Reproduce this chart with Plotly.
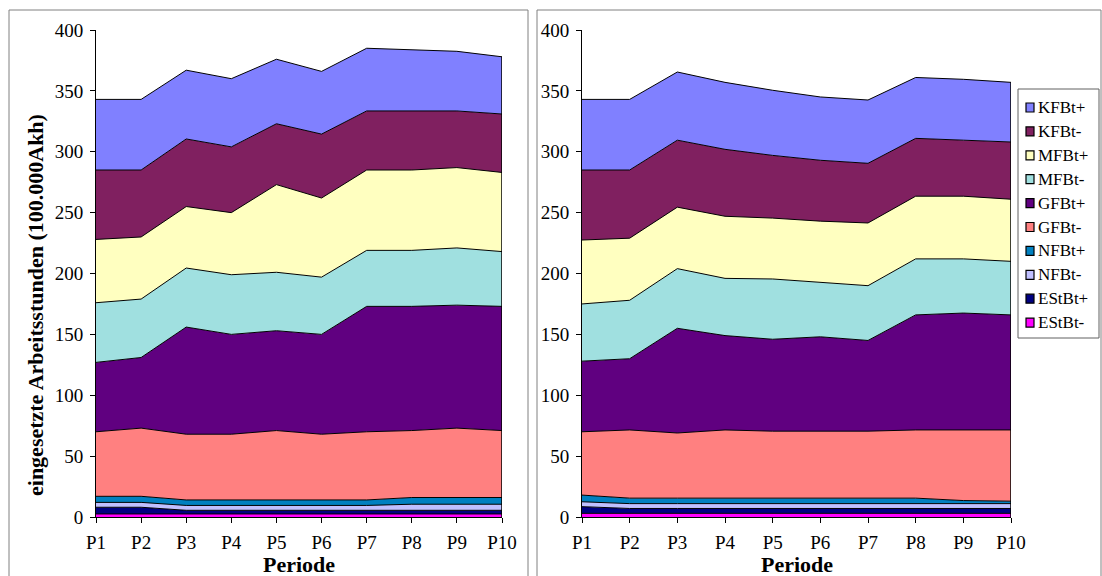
import plotly.graph_objects as go

periods = ["P1", "P2", "P3", "P4", "P5", "P6", "P7", "P8", "P9", "P10"]
series_names = ["EStBt-", "EStBt+", "NFBt-", "NFBt+", "GFBt-", "GFBt+", "MFBt-", "MFBt+", "KFBt-", "KFBt+"]
colors = ["#FF00FF", "#000080", "#C0C0FF", "#0080C0", "#FF8080", "#600080",
          "#A0E0E0", "#FFFFC0", "#802060", "#8080FF"]

# Left chart values (100.000 Akh)
left_EStBt_m = [2.5, 2.5, 2.5, 2.5, 2.5, 2.5, 2.5, 2.5, 2.5, 2.5]
left_EStBt_p = [5.5, 5.5, 3, 3, 3, 3, 3, 3, 3, 3]
left_NFBt_m = [4, 4, 4, 4, 4, 4, 4, 5, 5, 5]
left_NFBt_p = [5, 5, 4.5, 4.5, 4.5, 4.5, 4.5, 5.5, 5.5, 5.5]
left_GFBt_m = [53, 56, 54, 54, 57, 54, 56, 55, 57, 55]
left_GFBt_p = [57, 58, 88, 82, 82, 82, 103, 102, 101, 102]
left_MFBt_m = [49, 48, 48.5, 49, 48, 47, 46, 46, 47, 45]
left_MFBt_p = [52, 51, 50.5, 51, 72, 65, 66, 66, 66, 65]
left_KFBt_m = [57, 55, 55.5, 54, 50, 52.5, 48.5, 48.5, 46.5, 48]
left_KFBt_p = [58, 58, 56.5, 56, 53, 51.5, 51.5, 50.5, 49, 47]

# Right chart values (100.000 Akh)
right_EStBt_m = [3, 3, 3, 3, 3, 3, 3, 3, 3, 3]
right_EStBt_p = [5.5, 4, 4, 4, 4, 4, 4, 4, 4, 4]
right_NFBt_m = [4, 4, 4, 4, 4, 4, 4, 4, 4, 4]
right_NFBt_p = [5.5, 4.5, 4.5, 4.5, 4.5, 4.5, 4.5, 4.5, 2.5, 2]
right_GFBt_m = [52, 56, 53.5, 56, 55, 55, 55, 56, 58, 58.5]
right_GFBt_p = [58, 58.5, 86, 77.5, 75.5, 77.5, 74.5, 94.5, 96, 94.5]
right_MFBt_m = [47, 48, 49, 47, 49.5, 45, 45, 46, 44.5, 44]
right_MFBt_p = [52.5, 51, 50.5, 51, 50, 50, 51.5, 51.5, 51.5, 51]
right_KFBt_m = [57.5, 56, 55, 55, 51.5, 50, 49, 47.5, 46, 47]
right_KFBt_p = [58, 58, 56, 55, 53.5, 52, 52, 50, 50, 49]

left_series = [left_EStBt_m, left_EStBt_p, left_NFBt_m, left_NFBt_p, left_GFBt_m,
               left_GFBt_p, left_MFBt_m, left_MFBt_p, left_KFBt_m, left_KFBt_p]
right_series = [right_EStBt_m, right_EStBt_p, right_NFBt_m, right_NFBt_p, right_GFBt_m,
                right_GFBt_p, right_MFBt_m, right_MFBt_p, right_KFBt_m, right_KFBt_p]

FONT = "Liberation Serif"
W, H = 1102, 576
fig = go.Figure()

for series, xa, ya, grp in [(left_series, "x", "y", "left"),
                            (right_series, "x2", "y2", "right")]:
    for name, vals, col in zip(series_names, series, colors):
        fig.add_trace(go.Scatter(
            x=periods, y=vals, name=name, stackgroup=grp, mode="lines",
            line=dict(color="black", width=1), fillcolor=col,
            xaxis=xa, yaxis=ya, showlegend=False, hoverinfo="name+y"))
    total_last = sum(s[-1] for s in series)
    fig.add_trace(go.Scatter(
        x=[periods[-1], periods[-1]], y=[0, total_last], mode="lines",
        line=dict(color="black", width=1.5), xaxis=xa, yaxis=ya,
        showlegend=False, hoverinfo="skip"))

ydom = [(H - 517) / H, (H - 30) / H]
tfont = dict(family=FONT, size=19, color="black")
axis_common = dict(showgrid=False, zeroline=False, showline=True, linecolor="black",
                   linewidth=1, ticks="outside", tickcolor="black", ticklen=5,
                   tickfont=tfont, automargin=False)
xcommon = dict(axis_common, type="category", range=[0, 9], ticklabelstandoff=3)
ycommon = dict(axis_common, range=[0, 400], dtick=50, domain=ydom, ticklabelstandoff=3)

xdom1 = [96 / W, 502 / W]
xdom2 = [582 / W, 1011 / W]

annotations = [
    dict(text="<b>eingesetzte Arbeitsstunden (100.000Akh)</b>",
         xref="paper", yref="paper", x=35 / W, y=(H - 305) / H,
         textangle=-90, showarrow=False, xanchor="center", yanchor="middle",
         font=dict(family=FONT, size=22, color="black")),
]
for dom in (xdom1, xdom2):
    annotations.append(dict(text="<b>Periode</b>", xref="paper", yref="paper",
                            x=(dom[0] + dom[1]) / 2, y=(H - 564) / H,
                            xanchor="center", yanchor="middle", showarrow=False,
                            font=dict(family=FONT, size=22, color="black")))

shapes = [
    dict(type="rect", xref="paper", yref="paper", x0=9 / W, x1=528 / W,
         y0=-0.01, y1=(H - 10) / H, line=dict(color="#808080", width=1)),
    dict(type="rect", xref="paper", yref="paper", x0=537 / W, x1=1101 / W,
         y0=-0.01, y1=(H - 10) / H, line=dict(color="#808080", width=1)),
    # legend box
    dict(type="rect", xref="paper", yref="paper", x0=1018 / W, x1=1099 / W,
         y0=(H - 338) / H, y1=(H - 89) / H, line=dict(color="#606060", width=1),
         fillcolor="white"),
]

# manual legend (top entry = last series)
leg_top, leg_step = 107.5, 23.9
for i, (name, col) in enumerate(zip(reversed(series_names), reversed(colors))):
    yc = leg_top + i * leg_step
    shapes.append(dict(type="rect", xref="paper", yref="paper",
                       x0=1026 / W, x1=1034 / W, y0=(H - yc - 4.5) / H, y1=(H - yc + 4.5) / H,
                       fillcolor=col, line=dict(color="black", width=1.2)))
    annotations.append(dict(text=name, xref="paper", yref="paper",
                            x=1036 / W, y=(H - yc) / H, xanchor="left", yanchor="middle",
                            showarrow=False, font=dict(family=FONT, size=17, color="black")))

fig.update_layout(
    width=W, height=H, margin=dict(l=0, r=0, t=0, b=0, autoexpand=False),
    font=dict(family=FONT, size=17, color="black"),
    paper_bgcolor="white", plot_bgcolor="white", showlegend=False,
    xaxis=dict(xcommon, domain=xdom1, anchor="y"),
    yaxis=dict(ycommon, anchor="x"),
    xaxis2=dict(xcommon, domain=xdom2, anchor="y2"),
    yaxis2=dict(ycommon, anchor="x2"),
    annotations=annotations,
    shapes=shapes,
)

fig.write_html("out.html")
